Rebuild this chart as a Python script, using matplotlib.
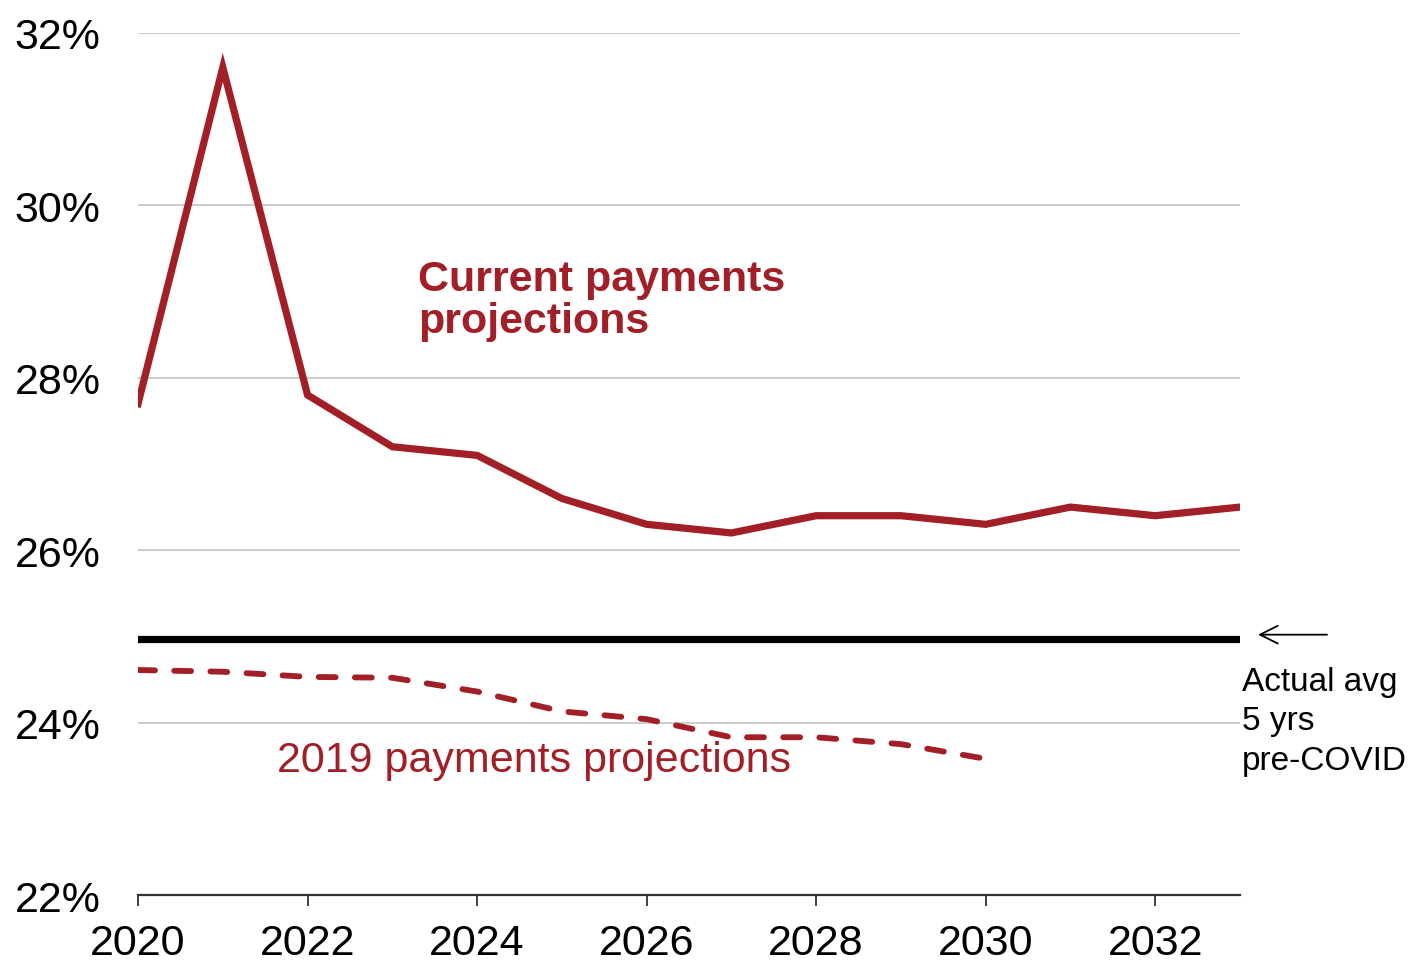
import matplotlib
matplotlib.use('Agg')
import matplotlib.pyplot as plt

plt.rcParams['font.family'] = ['Liberation Sans', 'DejaVu Sans']

# data
years = [2020, 2021, 2022, 2023, 2024, 2025, 2026, 2027, 2028, 2029, 2030, 2031, 2032, 2033]
current = [27.7, 31.6, 27.8, 27.2, 27.1, 26.6, 26.3, 26.2, 26.4, 26.4, 26.3, 26.5, 26.4, 26.5]
years2019 = [2020, 2021, 2022, 2023, 2024, 2025, 2026, 2027, 2028, 2029, 2030]
proj2019 = [24.61, 24.59, 24.53, 24.52, 24.36, 24.13, 24.04, 23.83, 23.83, 23.75, 23.58]
preCovidAvg = 24.97
yTicks = [22, 24, 26, 28, 30, 32]
xTicks = [2020, 2022, 2024, 2026, 2028, 2030, 2032]

red = '#a31f27'

fig = plt.figure(figsize=(14.1, 9.62), dpi=100)
ax = fig.add_axes([0.0979, 0.0686, 0.7815, 0.8961])

for yv in yTicks[1:]:
    ax.axhline(yv, color='#c8c8c8', lw=1.3, zorder=1)

ax.axhline(preCovidAvg, color='black', lw=5.2, zorder=2)
ax.plot(years2019, proj2019, color=red, lw=4.2, dashes=(2.9, 3.3), dash_capstyle='round', zorder=3)
ax.plot(years, current, color=red, lw=5.2, solid_joinstyle='miter', zorder=4)

ax.set_xlim(2020, 2033)
ax.set_ylim(22, 32)
ax.set_yticks(yTicks)
ax.set_yticklabels([str(v) + '%' for v in yTicks])
ax.set_xticks(xTicks)
ax.set_xticklabels([str(v) for v in xTicks])

for s in ['top', 'right', 'left']:
    ax.spines[s].set_visible(False)
ax.spines['bottom'].set_color('#333333')
ax.spines['bottom'].set_linewidth(1.6)
ax.tick_params(axis='y', length=0, pad=27, labelsize=31)
ax.tick_params(axis='x', length=8, width=1.3, color='#333333', pad=12, labelsize=31)

ax.text(2023.30, 29.38, 'Current payments\nprojections', color=red, fontsize=31,
        fontweight='bold', ha='left', va='top', linespacing=1.08)
ax.text(2021.64, 23.57, '2019 payments projections', color=red, fontsize=31,
        ha='left', va='center')
ax.text(2033.02, 24.66, 'Actual avg\n5 yrs\npre-COVID', color='black', fontsize=24,
        ha='left', va='top', linespacing=1.36, clip_on=False)
ax.annotate('', xy=(2033.18, 25.02), xytext=(2034.06, 25.02),
            arrowprops=dict(arrowstyle='->', color='black', lw=1.3, mutation_scale=32),
            annotation_clip=False)

fig.savefig('out.png', dpi=100)
